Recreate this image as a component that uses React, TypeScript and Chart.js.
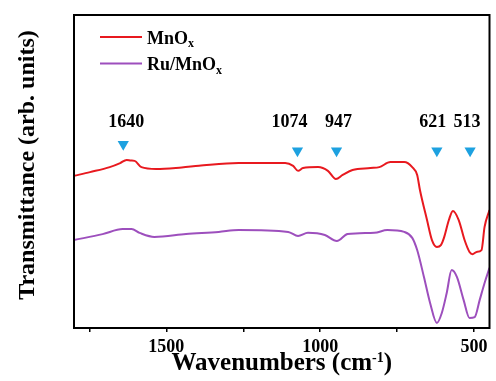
import React, { useEffect, useRef } from "react";
import { Chart, registerables } from "chart.js";

Chart.register(...registerables);

// FTIR spectra, wavenumber (cm-1) vs. transmittance (arbitrary units)
const MNOX_WN = [
  1800, 1748, 1684, 1650, 1629, 1615, 1603, 1581, 1533, 1450, 1394, 1265, 1114, 1088, 1072, 1056,
  1007, 975, 949, 927, 895, 837, 808, 772, 727, 701, 685, 676, 653, 637, 621, 608, 598, 582, 569,
  550, 531, 515, 505, 492, 476, 466, 450,
];
const MNOX_T = [
  48.6, 49.8, 51.4, 52.7, 53.7, 53.5, 53.4, 51.4, 50.8, 51.3, 51.8, 52.7, 52.7, 51.8, 50.2, 51.1,
  51.4, 50.2, 47.6, 48.9, 50.5, 51.1, 51.4, 53.0, 53.0, 51.4, 48.9, 44.1, 34.5, 28.1, 25.9, 26.5,
  28.8, 34.5, 37.4, 34.5, 28.1, 24.3, 23.6, 24.3, 24.9, 32.3, 37.7,
];

const RU_WN = [
  1800, 1707, 1642, 1613, 1587, 1539, 1436, 1330, 1265, 1104, 1072, 1040, 985, 946, 911, 824, 782,
  727, 701, 685, 663, 643, 621, 605, 589, 573, 556, 534, 515, 498, 482, 466, 450,
];
const RU_T = [
  28.1, 30.0, 31.6, 31.6, 30.4, 29.1, 30.0, 30.7, 31.3, 30.7, 29.4, 30.4, 29.7, 27.8, 30.0, 30.4,
  31.3, 30.7, 28.8, 24.9, 16.3, 8.0, 1.6, 4.8, 11.2, 18.5, 16.3, 8.9, 3.2, 3.5, 8.9, 14.4, 19.2,
];

// Marked absorption bands and the height of their markers
const BANDS = [1640, 1074, 947, 621, 513];
const BAND_MARK_T = [58.7, 56.6, 56.6, 56.6, 56.6];

const X_TICKS = [1750, 1500, 1250, 1000, 750, 500];
const X_MIN = 450;
const X_MAX = 1800;

const SERIES_NAMES = ["MnO", "Ru/MnO"];
const SERIES_SUB = "x";

const RED = "#e8191f";
const PURPLE = "#9d4fbd";
const BLUE = "#1da1e0";
const SERIF = "'Liberation Serif', 'Times New Roman', serif";

// pixel nudges that keep the band labels clear of each other
const LABEL_DX = [3, -8, 2, -4, -3];

const overlay = {
  id: "overlay",
  afterDraw(chart: any) {
    const { ctx, chartArea, scales } = chart;
    const xs = scales.x;
    ctx.save();

    // plot frame
    ctx.strokeStyle = "#000";
    ctx.lineWidth = 2;
    ctx.strokeRect(chartArea.left, chartArea.top, chartArea.right - chartArea.left, chartArea.bottom - chartArea.top);

    ctx.fillStyle = "#000";

    // band labels
    ctx.font = `bold 18px ${SERIF}`;
    ctx.textAlign = "center";
    ctx.textBaseline = "alphabetic";
    BANDS.forEach((b, i) => {
      ctx.fillText(String(b), xs.getPixelForValue(b) + LABEL_DX[i], 127);
    });

    // legend
    const colors = [RED, PURPLE];
    SERIES_NAMES.forEach((name, i) => {
      const ly = 37 + i * 26.5;
      ctx.strokeStyle = colors[i];
      ctx.lineWidth = 2;
      ctx.beginPath();
      ctx.moveTo(100, ly);
      ctx.lineTo(142, ly);
      ctx.stroke();
      ctx.textAlign = "left";
      ctx.font = `bold 18px ${SERIF}`;
      ctx.fillText(name, 147, ly + 6.5);
      const w = ctx.measureText(name).width;
      ctx.font = `bold 12px ${SERIF}`;
      ctx.fillText(SERIES_SUB, 147 + w, ly + 10);
    });

    // x-axis title with superscript
    const main = "Wavenumbers (cm";
    const sup = "-1";
    const close = ")";
    ctx.font = `bold 25px ${SERIF}`;
    const wMain = ctx.measureText(main).width;
    const wClose = ctx.measureText(close).width;
    ctx.font = `bold 14px ${SERIF}`;
    const wSup = ctx.measureText(sup).width;
    const total = wMain + wSup + wClose;
    const cx = (chartArea.left + chartArea.right) / 2;
    let tx = cx - total / 2;
    ctx.textAlign = "left";
    ctx.font = `bold 25px ${SERIF}`;
    ctx.fillText(main, tx, 370);
    tx += wMain;
    ctx.font = `bold 14px ${SERIF}`;
    ctx.fillText(sup, tx, 362);
    tx += wSup;
    ctx.font = `bold 25px ${SERIF}`;
    ctx.fillText(close, tx, 370);

    // y-axis title
    ctx.translate(34, 165);
    ctx.rotate(-Math.PI / 2);
    ctx.textAlign = "center";
    ctx.font = `bold 24px ${SERIF}`;
    ctx.fillText("Transmittance (arb. units)", 0, 0);

    ctx.restore();
  },
};

export default function App() {
  const ref = useRef<HTMLCanvasElement | null>(null);

  useEffect(() => {
    document.body.style.margin = "0";
    const canvas = ref.current;
    if (!canvas) return;
    const chart = new Chart(canvas, {
      type: "line",
      data: {
        datasets: [
          {
            label: "MnOx",
            data: MNOX_WN.map((x, i) => ({ x, y: MNOX_T[i] })),
            borderColor: RED,
            borderWidth: 2,
            pointRadius: 0,
            cubicInterpolationMode: "monotone",
          },
          {
            label: "Ru/MnOx",
            data: RU_WN.map((x, i) => ({ x, y: RU_T[i] })),
            borderColor: PURPLE,
            borderWidth: 2,
            pointRadius: 0,
            cubicInterpolationMode: "monotone",
          },
          {
            type: "scatter",
            label: "bands",
            data: BANDS.map((x, i) => ({ x, y: BAND_MARK_T[i] })),
            pointStyle: "triangle",
            rotation: 180,
            pointRadius: 6.5,
            backgroundColor: BLUE,
            borderWidth: 0,
            showLine: false,
          } as any,
        ],
      },
      options: {
        animation: false,
        responsive: false,
        maintainAspectRatio: false,
        layout: { padding: { left: 74, top: 15, right: 3, bottom: 0 } },
        plugins: { legend: { display: false }, tooltip: { enabled: false } },
        scales: {
          x: {
            type: "linear",
            reverse: true,
            min: X_MIN,
            max: X_MAX,
            afterBuildTicks: (axis: any) => {
              axis.ticks = X_TICKS.map((value) => ({ value }));
            },
            afterFit: (scale: any) => {
              scale.height = 53;
            },
            ticks: {
              autoSkip: false,
              maxRotation: 0,
              padding: 5,
              color: "#000",
              font: { family: SERIF, weight: "bold", size: 18 },
              callback: (v: any) => (Number(v) % 500 === 0 ? String(v) : ""),
            },
            grid: {
              drawOnChartArea: false,
              drawTicks: true,
              tickLength: 4,
              color: "#000",
              lineWidth: 1.5,
            },
            border: { display: false },
          },
          y: { display: false, min: 0, max: 100 },
        },
      } as any,
      plugins: [overlay],
    });
    return () => chart.destroy();
  }, []);

  return (
    <div style={{ width: 496, height: 381, background: "#fff" }}>
      <canvas ref={ref} width={496} height={381} style={{ display: "block" }} />
    </div>
  );
}
